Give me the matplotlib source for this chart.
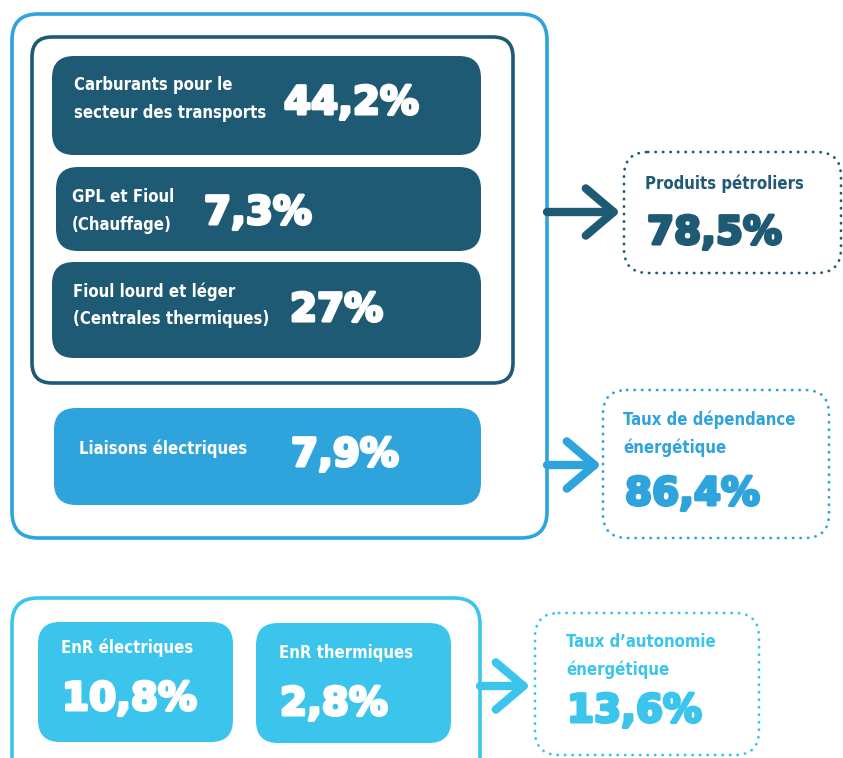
import matplotlib
matplotlib.use("Agg")
import matplotlib.pyplot as plt
import matplotlib.patheffects as pe
from matplotlib.patches import FancyBboxPatch

# %% data
petrole_labels = ["Carburants pour le\nsecteur des transports", "GPL et Fioul\n(Chauffage)",
                  "Fioul lourd et léger\n(Centrales thermiques)"]
petrole_values = ["44,2%", "7,3%", "27%"]
liaison_label = "Liaisons électriques"
liaison_value = "7,9%"
enr_labels = ["EnR électriques", "EnR thermiques"]
enr_values = ["10,8%", "2,8%"]
total_labels = ["Produits pétroliers", "Taux de dépendance\nénergétique", "Taux d’autonomie\nénergétique"]
total_values = ["78,5%", "86,4%", "13,6%"]

# %% colours
dark = "#1f5a75"
blue = "#2ea3dc"
cyan = "#3bc4ec"

fig = plt.figure(figsize=(8.43, 7.58), dpi=100)
ax = fig.add_axes([0, 0, 1, 1])
ax.set_xlim(0, 843)
ax.set_ylim(758, 0)
ax.axis("off")

lab_font = dict(family="DejaVu Sans", stretch="condensed", weight="bold", color="white")
num_font = dict(family="DejaVu Sans", weight="bold", color="white")


def rbox(x0, y0, x1, y1, r, fc="none", ec="none", lw=0, ls="-"):
    p = FancyBboxPatch((x0, y0), x1 - x0, y1 - y0, boxstyle="round,pad=0,rounding_size=%d" % r,
                       fc=fc, ec=ec, lw=lw, ls=ls)
    if ls != "-":
        p.set_capstyle("round")
    ax.add_patch(p)
    return p


def bignum(x, y, s, c="white"):
    # heavy display figures: bold + thin stroke of same colour
    t = ax.text(x, y, s, fontsize=28, va="center", ha="left", **{**num_font, "color": c})
    t.set_path_effects([pe.withStroke(linewidth=2.2, foreground=c)])


def arrow(x0, x1, y, c):
    ax.annotate("", xy=(x1, y), xytext=(x0, y),
                arrowprops=dict(arrowstyle="->,head_length=1.0,head_width=0.85", lw=6, color=c,
                                mutation_scale=20, shrinkA=0, shrinkB=0))


# %% top block (oil + electricity links)
rbox(12, 14, 547, 538, 26, ec=blue, lw=2.6)
rbox(32, 37, 513, 383, 20, ec=dark, lw=2.6)
boxes = [(52, 56, 481, 155), (56, 167, 481, 251), (52, 262, 481, 358)]
lab_xy = [(74, 99), (72, 211), (73, 305)]
num_xy = [(284, 103), (204, 213), (290, 310)]
for b, lab, val, lxy, nxy in zip(boxes, petrole_labels, petrole_values, lab_xy, num_xy):
    rbox(*b, 22, fc=dark)
    ax.text(lxy[0], lxy[1], lab, fontsize=12, va="center", ha="left", linespacing=1.65, **lab_font)
    bignum(nxy[0], nxy[1], val)

rbox(54, 408, 481, 505, 22, fc=blue)
ax.text(79, 449, liaison_label, fontsize=12, va="center", ha="left", **lab_font)
bignum(291, 455, liaison_value)

# %% bottom block (renewables)
rbox(12, 598, 480, 790, 26, ec=cyan, lw=2.6)
enr_boxes = [(38, 622, 233, 742), (256, 623, 451, 743)]
enr_lab_xy = [(61, 648), (279, 653)]
for b, lab, val, lxy in zip(enr_boxes, enr_labels, enr_values, enr_lab_xy):
    rbox(*b, 22, fc=cyan)
    ax.text(lxy[0], lxy[1], lab, fontsize=12, va="center", ha="left", **lab_font)
    bignum(lxy[0] + 1, lxy[1] + 51, val)

# %% totals (dotted boxes)
tot_boxes = [(624, 152, 841, 273), (603, 390, 829, 538), (535, 613, 759, 755)]
tot_cols = [dark, blue, cyan]
tot_lab_xy = [(645, 184), (623, 434), (566, 656)]
tot_num_xy = [(647, 233), (625, 494), (567, 711)]
for b, c, lab, val, lxy, nxy in zip(tot_boxes, tot_cols, total_labels, total_values, tot_lab_xy, tot_num_xy):
    rbox(*b, 24, ec=c, lw=2.0, ls=(0, (0.1, 2.6)))
    ax.text(lxy[0], lxy[1], lab, fontsize=12, va="center", ha="left", linespacing=1.65,
            **{**lab_font, "color": c})
    bignum(nxy[0], nxy[1], val, c)

arrow(547, 620, 212, dark)
arrow(547, 601, 465, blue)
arrow(480, 530, 686, cyan)

fig.savefig("out.png", dpi=100)
